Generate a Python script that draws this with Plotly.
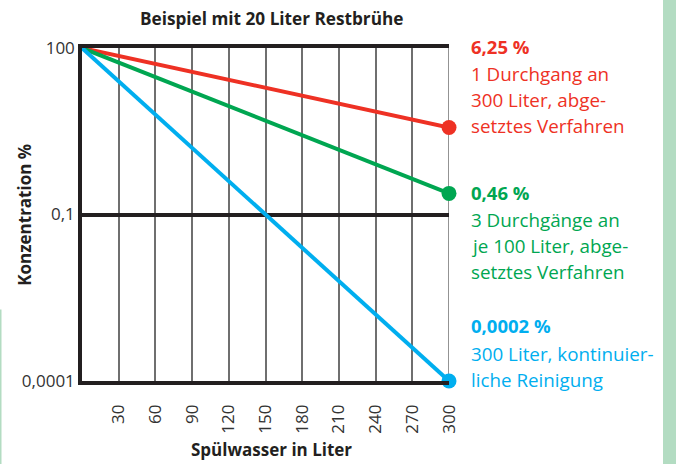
import plotly.graph_objects as go

# ---- data ----
x_vals = [0, 300]
red_vals = [100, 3.7]      # 1 Durchgang an 300 Liter
green_vals = [100, 0.24]   # 3 Durchgänge an je 100 Liter
blue_vals = [100, 0.0001]  # kontinuierliche Reinigung
x_ticks = [30, 60, 90, 120, 150, 180, 210, 240, 270, 300]
y_ticks = [100, 0.1, 0.0001]
y_ticktext = ["100", "0,1", "0,0001"]

RED = "#ee3124"
GREEN = "#00a651"
BLUE = "#00aeef"
FONT = "Open Sans"
DARK = "#231f20"

W, H = 676, 464
L, R, T, B = 82, 449, 48, 381.5

def px(x):
    return (x - L) / (R - L)

def py(y):
    return (B - y) / (B - T)

fig = go.Figure()
for vals, col in [(red_vals, RED), (green_vals, GREEN), (blue_vals, BLUE)]:
    fig.add_trace(go.Scatter(
        x=x_vals, y=vals, mode="lines",
        line=dict(color=col, width=4),
        showlegend=False, hoverinfo="skip"))
for vals, col in [(red_vals, RED), (green_vals, GREEN), (blue_vals, BLUE)]:
    fig.add_trace(go.Scatter(
        x=x_vals[-1:], y=vals[-1:], mode="markers",
        marker=dict(size=15, color=col, opacity=1, line=dict(width=0)),
        showlegend=False, cliponaxis=False, hoverinfo="skip"))

fig.update_layout(
    width=W, height=H,
    margin=dict(l=L, r=W - R, t=T, b=H - B, autoexpand=False),
    paper_bgcolor="white", plot_bgcolor="white",
    font=dict(family=FONT, color="#333333"),
    xaxis=dict(range=[0, 300], tickvals=x_ticks, ticktext=[str(t) for t in x_ticks],
               tickangle=-90, tickfont=dict(size=17, color="#333333"),
               ticklabelstandoff=13, automargin=False,
               showgrid=True, gridcolor="#6f6f6f", gridwidth=1.5,
               zeroline=False, showline=True, mirror=True, linecolor=DARK, linewidth=3.5,
               ticks="", ticklen=0),
    yaxis=dict(type="log", range=[-4, 2], tickvals=y_ticks, ticktext=y_ticktext,
               tickfont=dict(size=17, color="#333333"), automargin=False,
               showgrid=True, gridcolor=DARK, gridwidth=3.5,
               zeroline=False, showline=True, linecolor=DARK, linewidth=3.5,
               ticks="", ticklen=0),
)

ann = []
def txt(x, y, s, size, color, bold=False, angle=0, anchor="left"):
    ann.append(dict(x=px(x), y=py(y), xref="paper", yref="paper", text=(f"<b>{s}</b>" if bold else s),
                    showarrow=False, xanchor=anchor, yanchor="middle", textangle=angle,
                    font=dict(size=size, color=color, family=FONT)))

txt(271, 18, "Beispiel mit 20 Liter Restbrühe", 17.2, DARK, bold=True, anchor="center")
txt(271.5, 450, "Spülwasser in Liter", 17, DARK, bold=True, anchor="center")
txt(25, 215, "Konzentration %", 17, DARK, bold=True, angle=-90, anchor="center")

blocks = [
    (46.5, "6,25 %", ["1 Durchgang an", "300 Liter, abge-", "setztes Verfahren"], RED),
    (192.5, "0,46 %", ["3 Durchgänge an", "je 100 Liter, abge-", "setztes Verfahren"], GREEN),
    (326, "0,0002 %", ["300 Liter, kontinuier-", "liche Reinigung"], BLUE),
]
for y0, head, lines, col in blocks:
    txt(469, y0, head, 18.5, col, bold=True)
    for i, ln in enumerate(lines):
        txt(469, y0 + 28 + 26 * i, ln, 18.8, col)

fig.update_layout(annotations=ann)

# right border of the grid (gridline at x = 300)
fig.add_shape(type="line", xref="x", yref="y", x0=300, x1=300, y0=0.0001, y1=100,
              line=dict(color="#6f6f6f", width=1.5), layer="below")
fig.add_shape(type="rect", xref="paper", yref="paper", x0=px(663), x1=px(677), y0=py(-1), y1=py(465),
              fillcolor="#b3dcc2", line=dict(width=0), layer="below")
fig.add_shape(type="rect", xref="paper", yref="paper", x0=px(0), x1=px(1.5), y0=py(310), y1=py(465),
              fillcolor="#b3dcc2", line=dict(width=0), layer="below")

fig.write_html("out.html", config={"displayModeBar": False},
               post_script="document.body.style.margin='0';document.body.style.padding='0';")
